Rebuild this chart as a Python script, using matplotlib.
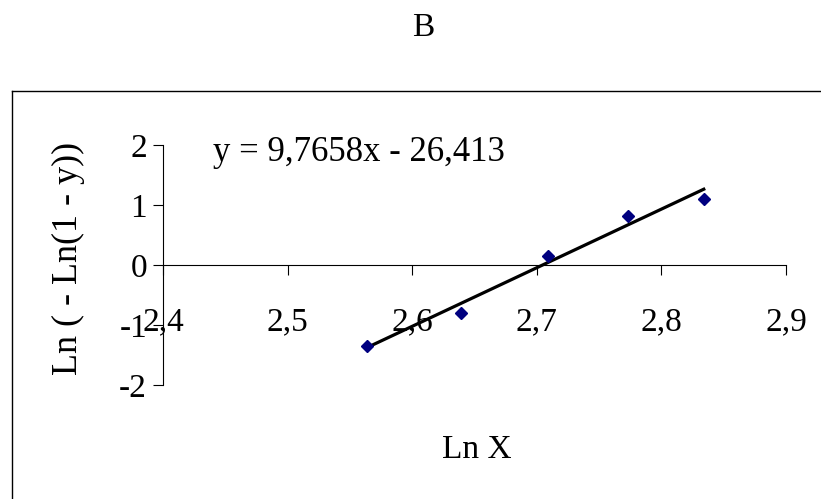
import numpy as np
import matplotlib
matplotlib.use('Agg')
import matplotlib.pyplot as plt
from matplotlib.lines import Line2D

plt.rcParams['font.family'] = ['Liberation Serif', 'DejaVu Serif']

# data
ln_x = [2.564, 2.639, 2.709, 2.7735, 2.834]
ln_y = [-1.35, -0.795, 0.15, 0.817, 1.105]
slope = 9.7658
intercept = -26.413
x_ticks = [2.4, 2.5, 2.6, 2.7, 2.8, 2.9]
x_tick_labels = ['2,4', '2,5', '2,6', '2,7', '2,8', '2,9']
y_ticks = [-2, -1, 0, 1, 2]
y_tick_labels = ['-2', '-1', '0', '1', '2']

W, H = 821, 499
fig = plt.figure(figsize=(W / 100, H / 100), dpi=100)
ax = fig.add_axes([163 / W, (H - 385) / H, 623 / W, 240 / H])

# trendline
tx = np.array([min(ln_x), max(ln_x)])
ax.plot(tx, slope * tx + intercept, color='black', lw=2.3, zorder=2)
# points
ax.plot(ln_x, ln_y, linestyle='none', marker='D', ms=6.3,
        color='#000080', mec='#000080', zorder=3)

ax.set_xlim(2.4, 2.9)
ax.set_ylim(-2, 2)
ax.spines['top'].set_visible(False)
ax.spines['right'].set_visible(False)
ax.spines['bottom'].set_position(('data', 0))
for s in ('left', 'bottom'):
    ax.spines[s].set_linewidth(0.8)
    ax.spines[s].set_color('black')

ax.set_xticks(x_ticks)
ax.set_xticklabels(x_tick_labels)
ax.set_yticks(y_ticks)
ax.set_yticklabels(y_tick_labels)
ax.tick_params(axis='both', direction='out', length=7.2, width=0.8,
               labelsize=24)
ax.tick_params(axis='x', pad=33.8)
ax.tick_params(axis='y', pad=4.3)
for lab in ax.get_xticklabels():
    lab.set_verticalalignment('center')
ax.patch.set_visible(False)

# outer frame (only left and top edges show)
fig.add_artist(Line2D([12 / W, 12 / W], [0, (H - 91) / H], color='black', lw=1.0))
fig.add_artist(Line2D([12 / W, 1], [(H - 91) / H, (H - 91) / H], color='black', lw=1.0))

fig.text(423 / W, 1 - 28 / H, 'B', ha='center', va='center', fontsize=24)
fig.text(213 / W, 1 - 152 / H, 'y = 9,7658x - 26,413', ha='left', va='center', fontsize=25)
fig.text(477 / W, 1 - 450 / H, 'Ln X', ha='center', va='center', fontsize=24)
fig.text(68 / W, 1 - 258 / H, 'Ln ( - Ln(1 - y))', ha='center', va='center',
         rotation=90, fontsize=26)

fig.savefig('out.png', dpi=100)
